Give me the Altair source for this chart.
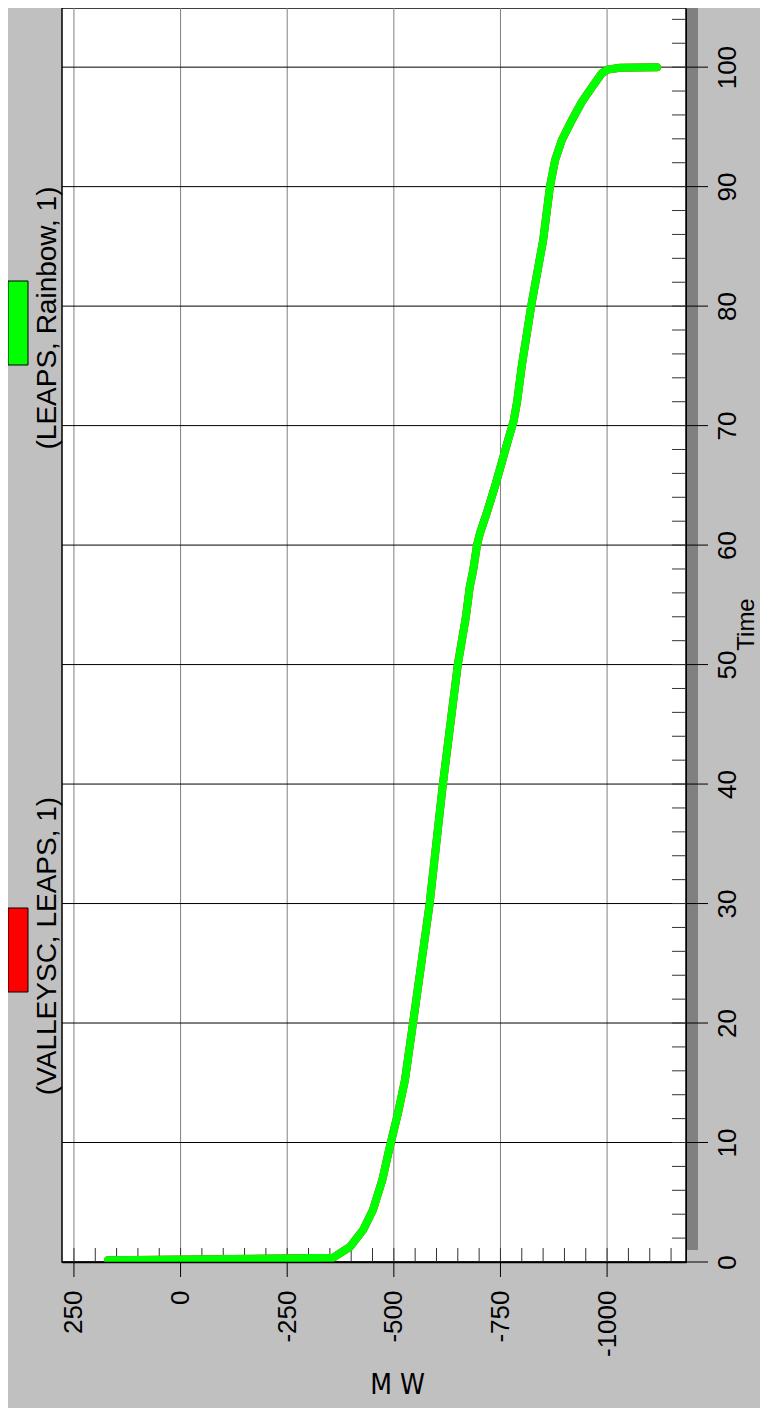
import altair as alt
import pandas as pd

# ---- data ----
time_s = [0.15, 0.35, 1.26, 2.68, 4.35, 6.86, 9.1, 10.0, 12.5, 15.2,
          20, 30, 40, 50, 54, 56.5, 57.9, 60, 61, 62.7,
          64.9, 66.9, 68.8, 70.4, 72, 75, 80, 85.5, 90, 92.2, 93.9,
          95.6, 97.1, 98.3, 99.5, 99.8, 99.95, 100.0]
mw_leaps_rainbow = [170, -357, -397, -428, -451, -473, -487, -493, -510, -526,
                    -545, -584, -615, -650, -669, -678, -686, -695, -702, -718,
                    -737, -753, -768, -781, -789, -800, -822, -850, -866, -878, -894,
                    -918, -941, -964, -988, -1002, -1030, -1117]
mw_valleysc_leaps = [170, -357, -397, -428, -451, -473, -487, -493, -510, -526,
                     -545, -584, -615, -650, -669, -678, -686, -695, -702, -718,
                     -737, -753, -768, -781, -789, -800, -822, -850, -866, -878, -894,
                     -918, -941, -964, -988, -1002, -1030, -1117]
series_names = ["(VALLEYSC, LEAPS, 1)", "(LEAPS, Rainbow, 1)"]
series_colors = ["#ff0000", "#00ff00"]

x_major = [250, 0, -250, -500, -750, -1000]
x_minor = list(range(250, -1151, -50))
y_major = list(range(0, 101, 10))
y_minor = list(range(2, 105, 2))

W, H = 624, 1254
FONT = "Liberation Sans"

red_df = pd.DataFrame({"Time": time_s, "MW": mw_valleysc_leaps})
green_df = pd.DataFrame({"Time": time_s, "MW": mw_leaps_rainbow})
xg_df = pd.DataFrame({"MW": x_major})
yg_df = pd.DataFrame({"Time": y_major})
xm_df = pd.DataFrame({"MW": x_minor})
ym_df = pd.DataFrame({"Time": y_minor})
one = pd.DataFrame({"k": [0]})

xs = alt.Scale(domain=[-1185, 278], reverse=True, nice=False, zero=False)
ys = alt.Scale(domain=[0, 104.95], nice=False, zero=False)

x_axis = alt.Axis(
    values=x_major, orient="bottom", grid=False, domain=True, domainColor="black",
    domainWidth=1.5, ticks=True, tickSize=15, tickOpacity=0,
    labelAngle=270, labelAlign="right", labelBaseline="middle", labelPadding=13,
    labelFontSize=26, labelFont=FONT, labelColor="black", labelOverlap=False,
    labelFlush=False, labelExpr="'' + datum.value",
    title="M W", titleX=335, titleY=123, titleAngle=0, titleAlign="center",
    titleBaseline="middle", titleFontSize=28, titleFontWeight="normal",
    titleFont="DejaVu Sans Condensed, Liberation Sans", titleColor="black", zindex=1)
y_axis = alt.Axis(
    values=y_major, orient="right", grid=False, domain=True, domainColor="black",
    domainWidth=1, ticks=True, tickSize=22, tickOpacity=0,
    labelAngle=270, labelAlign="center", labelBaseline="middle", labelPadding=19,
    labelFontSize=26, labelFont=FONT, labelColor="black", labelOverlap=False,
    labelFlush=False, labelExpr="'' + datum.value",
    title="Time", titleX=60, titleY=616, titleAngle=270, titleAlign="center",
    titleBaseline="middle", titleFontSize=24, titleFontWeight="normal",
    titleFont=FONT, titleColor="black", zindex=1)

X = alt.X("MW:Q", scale=xs, axis=x_axis)
Y = alt.Y("Time:Q", scale=ys, axis=y_axis)

shadow = alt.Chart(one).mark_rect(color="#808080").encode(
    x=alt.value(W), x2=alt.value(W + 12), y=alt.value(0), y2=alt.value(H - 12))

xgrid = alt.Chart(xg_df).mark_rule(color="#808080", strokeWidth=1).encode(
    x=X, y=alt.value(0), y2=alt.value(H))
ygrid = alt.Chart(yg_df).mark_rule(color="black", strokeWidth=1).encode(
    y=Y, x=alt.value(0), x2=alt.value(W))
xmajor_t = alt.Chart(xg_df).mark_rule(color="black", strokeWidth=1).encode(
    x=X, y=alt.value(H), y2=alt.value(H + 15))
ymajor_t = alt.Chart(yg_df).mark_rule(color="black", strokeWidth=1).encode(
    y=Y, x=alt.value(W), x2=alt.value(W + 22))
xminor = alt.Chart(xm_df).mark_rule(color="#333333", strokeWidth=1).encode(
    x=X, y=alt.value(H - 14), y2=alt.value(H))
yminor = alt.Chart(ym_df).mark_rule(color="#333333", strokeWidth=1).encode(
    y=Y, x=alt.value(W - 14), x2=alt.value(W))

red_line = alt.Chart(red_df).mark_line(color=series_colors[0], strokeWidth=8,
                                        strokeCap="round", clip=True).encode(
    x=X, y=Y, order="Time:Q")
green_line = alt.Chart(green_df).mark_line(color=series_colors[1], strokeWidth=8,
                                            strokeCap="round", clip=True).encode(
    x=X, y=Y, order="Time:Q")

red_box = alt.Chart(one).mark_rect(color=series_colors[0], stroke="black",
                                   strokeWidth=1).encode(
    x=alt.value(-54), x2=alt.value(-34), y=alt.value(900), y2=alt.value(984))
green_box = alt.Chart(one).mark_rect(color=series_colors[1], stroke="black",
                                     strokeWidth=1).encode(
    x=alt.value(-54), x2=alt.value(-34), y=alt.value(273), y2=alt.value(357))
red_txt = alt.Chart(one).mark_text(angle=270, align="center", baseline="middle",
                                   fontSize=28, font=FONT, color="black").encode(
    x=alt.value(-14), y=alt.value(938), text=alt.value(series_names[0]))
green_txt = alt.Chart(one).mark_text(angle=270, align="center", baseline="middle",
                                     fontSize=28, font=FONT, color="black").encode(
    x=alt.value(-14), y=alt.value(310), text=alt.value(series_names[1]))

chart = alt.layer(
    shadow, xgrid, ygrid, xminor, yminor, xmajor_t, ymajor_t, red_line, green_line,
    red_box, green_box, red_txt, green_txt
).properties(
    width=W, height=H,
    autosize=alt.AutoSizeParams(type="none"),
    padding={"left": 54, "top": 0, "right": 74, "bottom": 146},
    background="#c0c0c0",
).configure_view(fill="white", stroke="black", strokeWidth=1.5)

chart.save("out.html", embed_options={"renderer": "svg", "actions": False})
